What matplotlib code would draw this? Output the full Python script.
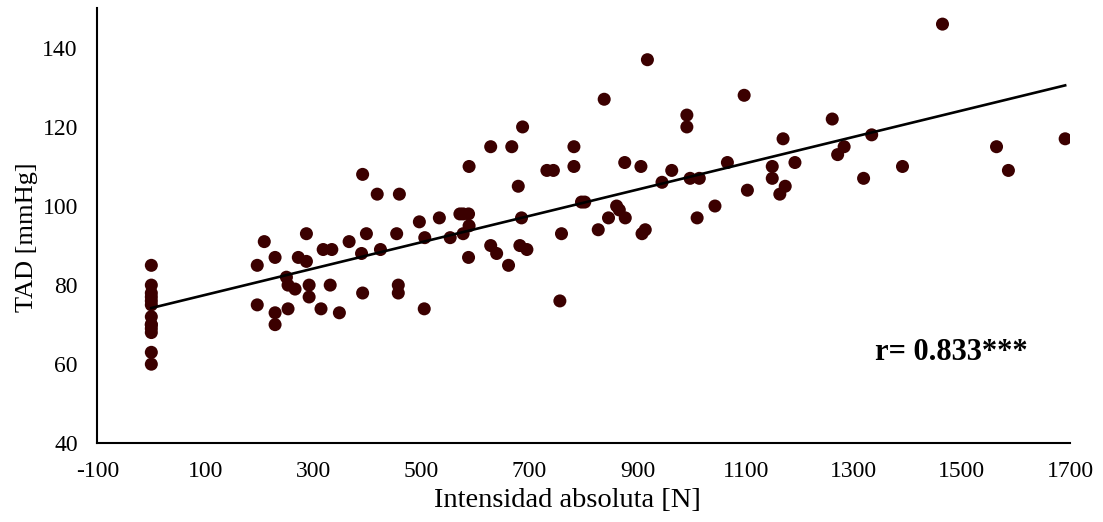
import matplotlib
matplotlib.use("Agg")
import matplotlib.pyplot as plt
import numpy as np

plt.rcParams['font.family'] = ['Liberation Serif', 'DejaVu Serif']
plt.rcParams['axes.unicode_minus'] = False

# absolute intensity [N] and diastolic pressure [mmHg]
intensidad = [
    0, 0, 0, 0, 0, 0, 0, 0, 0, 0, 0, 0, 0,
    196, 209, 229, 272, 250, 253, 266, 196, 229, 253, 229,
    391, 418, 459, 287, 287, 318, 334, 366, 398, 389, 424, 454,
    496, 533, 506, 553, 571, 292, 292, 331, 314, 348, 391, 457, 457, 505,
    838, 687, 628, 667, 782, 588, 732, 744, 782, 679, 577, 587, 588, 577,
    685, 796, 802, 861, 866, 846, 827, 759, 587, 628, 639, 682, 695, 661, 756,
    918, 1097, 991, 991, 876, 906, 963, 945, 997, 1014, 1066, 1149, 1149,
    1163, 1103, 1043, 1010, 877, 908, 914,
    1260, 1169, 1333, 1282, 1270, 1191, 1173, 1318, 1390,
    1464, 1564, 1586, 1691,
]
tad = [
    85, 80, 78, 77, 76, 75, 72, 70, 70, 69, 68, 63, 60,
    85, 91, 87, 87, 82, 80, 79, 75, 73, 74, 70,
    108, 103, 103, 93, 86, 89, 89, 91, 93, 88, 89, 93,
    96, 97, 92, 92, 98, 80, 77, 80, 74, 73, 78, 80, 78, 74,
    127, 120, 115, 115, 115, 110, 109, 109, 110, 105, 98, 98, 95, 93,
    97, 101, 101, 100, 99, 97, 94, 93, 87, 90, 88, 90, 89, 85, 76,
    137, 128, 123, 120, 111, 110, 109, 106, 107, 107, 111, 110, 107,
    103, 104, 100, 97, 97, 93, 94,
    122, 117, 118, 115, 113, 111, 105, 107, 110,
    146, 115, 109, 117,
]

# linear fit shown in the figure
fit_intercept = 74.2
fit_slope = 0.0333
r_value = 0.833

fig = plt.figure(figsize=(11.03, 5.22), dpi=100)
ax = fig.add_axes([0.0882, 0.1508, 0.8819, 0.8333])

ax.scatter(intensidad, tad, s=88, color='#3b0000', edgecolors='none', zorder=3)

xs = np.array([min(intensidad), max(intensidad)])
ax.plot(xs, fit_intercept + fit_slope * xs, color='black', lw=1.9, zorder=4)

ax.set_xlim(-100, 1700)
ax.set_ylim(40, 150)
ax.set_xticks(np.arange(-100, 1701, 200))
ax.set_yticks(np.arange(40, 141, 20))
ax.tick_params(length=0, labelsize=17, pad=13)
ax.tick_params(axis='y', pad=14)

for side in ['top', 'right']:
    ax.spines[side].set_visible(False)
for side in ['left', 'bottom']:
    ax.spines[side].set_linewidth(1.5)
    ax.spines[side].set_color('black')

ax.set_xlabel('Intensidad absoluta [N]', fontsize=20.5)
ax.set_ylabel('TAD [mmHg]', fontsize=19)
ax.xaxis.set_label_coords(0.483, -0.103)
ax.yaxis.set_label_coords(-0.061, 0.474)

ax.text(1340, 63, 'r= %.3f***' % r_value, fontsize=22, fontweight='bold',
        ha='left', va='center')

fig.savefig('out.png', dpi=100)
